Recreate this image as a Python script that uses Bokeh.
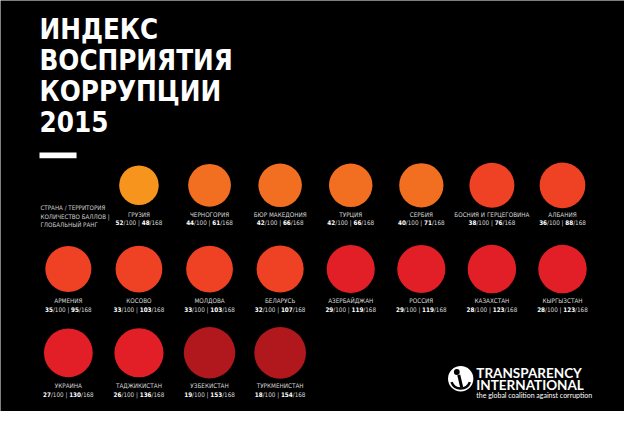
from bokeh.plotting import figure
from bokeh.models import Range1d
from bokeh.core.properties import value
from bokeh.embed import file_html
from bokeh.resources import INLINE
import math

# ---------------- data ----------------
title_lines = ["ИНДЕКС", "ВОСПРИЯТИЯ", "КОРРУПЦИИ", "2015"]
legend_lines = ["СТРАНА / ТЕРРИТОРИЯ", "КОЛИЧЕСТВО БАЛЛОВ |", "ГЛОБАЛЬНЫЙ РАНГ"]
countries = ["ГРУЗИЯ", "ЧЕРНОГОРИЯ", "БЮР МАКЕДОНИЯ", "ТУРЦИЯ", "СЕРБИЯ",
             "БОСНИЯ И ГЕРЦЕГОВИНА", "АЛБАНИЯ", "АРМЕНИЯ", "КОСОВО", "МОЛДОВА",
             "БЕЛАРУСЬ", "АЗЕРБАЙДЖАН", "РОССИЯ", "КАЗАХСТАН", "КЫРГЫЗСТАН",
             "УКРАИНА", "ТАДЖИКИСТАН", "УЗБЕКИСТАН", "ТУРКМЕНИСТАН"]
scores = [52, 44, 42, 42, 40, 38, 36, 35, 33, 33, 32, 29, 29, 28, 28, 27, 26, 19, 18]
ranks = [48, 61, 66, 66, 71, 76, 88, 95, 103, 103, 107, 119, 119, 123, 123, 130, 136, 153, 154]
max_score = 100
n_countries = 168
logo_lines = ["TRANSPARENCY", "INTERNATIONAL"]
logo_tag = "the global coalition against corruption"

# ---------------- style ----------------
FONT = "DejaVu Sans Condensed"
band_colors = {5: "#F7941D", 4: "#F26F21", 3: "#EF4123", 2: "#E21F26", 1: "#B0181E"}

p = figure(width=624, height=411, x_range=Range1d(0, 640), y_range=Range1d(427, 0),
           output_backend="svg", toolbar_location=None, min_border=0,
           background_fill_color="#000000", border_fill_color="#000000")
p.axis.visible = False
p.grid.visible = False
p.outline_line_color = None

# title
p.text(x=[40] * 4, y=[30, 62, 94, 125.5], text=title_lines,
       text_font=value(FONT), text_font_size=value("27.5px"), text_font_style="bold",
       text_color="white", text_align="left", text_baseline="middle")
p.quad(left=[40], right=[78], top=[158], bottom=[164], fill_color="white", line_color=None)

# legend text
p.text(x=[41] * 3, y=[215, 224, 233], text=legend_lines,
       text_font=value(FONT), text_font_size=value("6.2px"),
       text_color="#d0d0d0", text_align="left", text_baseline="middle")

# grid layout
col_x0, col_dx = 69.6, 72.4
row_y = [192, 279, 366]
name_y = [222, 312, 400]
score_y = [231, 321, 409]

xs, ys, rs, cols, nx, ny = [], [], [], [], [], []
for i, (c, s) in enumerate(zip(countries, scores)):
    slot = i + 1
    row, col = divmod(slot, 8)
    x = col_x0 + col_dx * col
    xs.append(x); ys.append(row_y[row])
    rs.append(2.93 * math.sqrt(max_score - s))
    cols.append(band_colors[s // 10])
    nx.append(x); ny.append(name_y[row])

p.circle(x=xs, y=ys, radius=rs, fill_color=cols, line_color=None)
p.text(x=nx, y=ny, text=countries, text_font=value(FONT), text_font_size=value("6.3px"),
       text_color="#d8d8d8", text_align="center", text_baseline="middle")

# score lines with bold numbers
fs = 6.3
cw = {"/": 0.303, " ": 0.286, "|": 0.303}
def width(t, bold):
    return sum(cw.get(ch, 0.626 if bold else 0.572) for ch in t) * fs * 640 / 624

bx, by, bt, nx2, ny2, nt = [], [], [], [], [], []
for i, (s, r) in enumerate(zip(scores, ranks)):
    slot = i + 1
    row, col = divmod(slot, 8)
    x = col_x0 + col_dx * col
    pieces = [(str(s), True), (f"/{max_score} | ", False), (str(r), True), (f"/{n_countries}", False)]
    total = sum(width(t, b) for t, b in pieces)
    cx = x - total / 2
    for t, bold in pieces:
        if bold:
            bx.append(cx); by.append(score_y[row]); bt.append(t)
        else:
            nx2.append(cx); ny2.append(score_y[row]); nt.append(t)
        cx += width(t, bold)

p.text(x=bx, y=by, text=bt, text_font=value(FONT), text_font_size=value(f"{fs}px"),
       text_font_style="bold", text_color="white", text_align="left", text_baseline="middle")
p.text(x=nx2, y=ny2, text=nt, text_font=value(FONT), text_font_size=value(f"{fs}px"),
       text_color="#d8d8d8", text_align="left", text_baseline="middle")

# logo
p.circle(x=[472], y=[393], radius=[13], fill_color="white", line_color=None)
p.arc(x=[472], y=[393], radius=10, start_angle=math.radians(200), end_angle=math.radians(340),
      line_color="black", line_width=2.5)
p.circle(x=[468], y=[386], radius=[3], fill_color="black", line_color=None)
p.segment(x0=[470], y0=[389], x1=[473], y1=[402], line_color="black", line_width=3)
p.text(x=[488, 488], y=[387, 399], text=logo_lines, text_font=value("Lato"),
       text_font_size=value("13.5px"), text_font_style="bold", text_color="white",
       text_align="left", text_baseline="middle")
p.text(x=[488], y=[409.5], text=[logo_tag], text_font=value("Lato"),
       text_font_size=value("7px"), text_color="white", text_align="left", text_baseline="middle")

open("out.html", "w").write(file_html(p, INLINE))
